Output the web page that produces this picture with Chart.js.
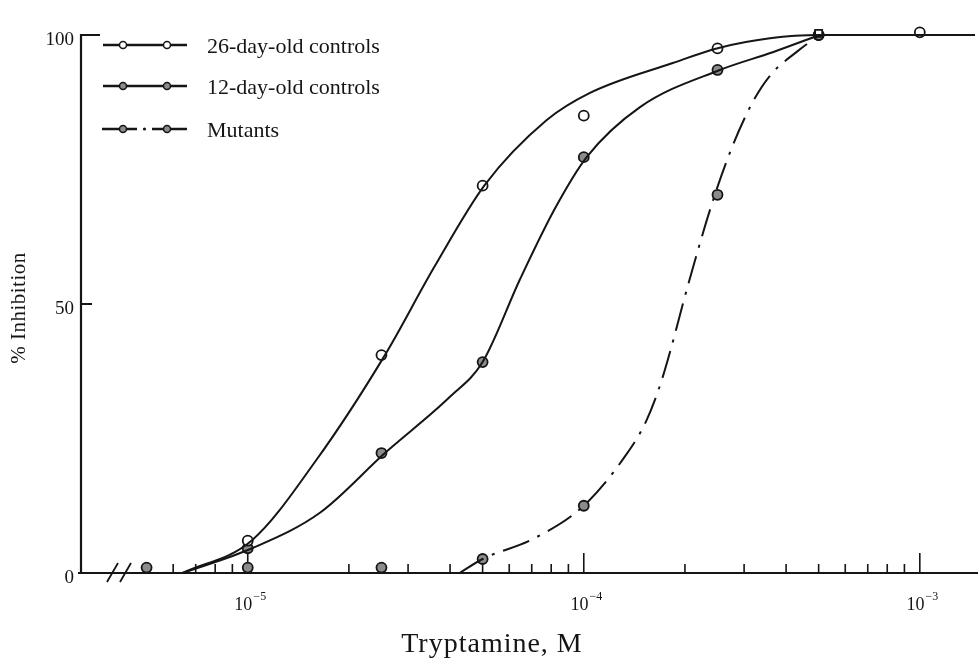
<!DOCTYPE html>
<html>
<head>
<meta charset="utf-8">
<script src="https://cdn.jsdelivr.net/npm/chart.js@4.4.0/dist/chart.umd.min.js"></script>
<style>
  body { margin: 0; background: #fff; }
  canvas { display: block; }
</style>
</head>
<body>
<canvas id="plot" width="978" height="665"></canvas>
<script>
// series names (legend order)
const seriesNames = ['26-day-old controls', '12-day-old controls', 'Mutants'];

// measured points: tryptamine concentration (M) and % inhibition
const conc26 = [1e-5, 2.5e-5, 5e-5, 1e-4, 2.5e-4, 5e-4, 1e-3];
const inhib26 = [6, 40.5, 72, 85, 97.5, 100.3, 100.5];
const conc12 = [1e-5, 2.5e-5, 5e-5, 1e-4, 2.5e-4, 5e-4];
const inhib12 = [4.6, 22.3, 39.2, 77.3, 93.5, 100];
const concMut = [5e-6, 1e-5, 2.5e-5, 5e-5, 1e-4, 2.5e-4, 5e-4];
const inhibMut = [1, 1, 1, 2.6, 12.5, 70.3, 100];

// hand drawn curves
const curve26X = [6.4e-6, 1.03e-5, 1.6e-5, 2.56e-5, 3.6e-5, 5.07e-5, 7.76e-5, 1.04e-4, 1.84e-4, 2.52e-4, 3.58e-4, 5.03e-4, 1.46e-3];
const curve26Y = [0, 6.1, 21, 40.5, 57, 72.1, 84.2, 89.2, 94.8, 97.6, 99.4, 100, 100];
const curve12X = [6.4e-6, 1.03e-5, 1.64e-5, 2.56e-5, 3.99e-5, 5.0e-5, 6.45e-5, 8.2e-5, 1.02e-4, 1.47e-4, 2.54e-4, 3.65e-4, 5.03e-4];
const curve12Y = [0, 4.6, 11.2, 22.3, 32.7, 39.2, 54.5, 67.7, 77.3, 86.6, 93.5, 96.8, 100];
const curveMutX = [4.27e-5, 5.0e-5, 7.05e-5, 1e-4, 1.334e-4, 1.53e-4, 1.707e-4, 2.07e-4, 2.4e-4, 2.74e-4, 3.18e-4, 3.6e-4, 4.33e-4, 5.03e-4];
const curveMutY = [0, 2.6, 6.3, 12.5, 21.9, 28.1, 35.9, 54.8, 68.4, 78.6, 87.5, 92.6, 97, 100];

// axis ticks
const majorTicks = [1e-5, 1e-4, 1e-3];
const majorExp = ['\u22125', '\u22124', '\u22123'];
const minorTicks = [6e-6, 7e-6, 8e-6, 9e-6,
  2e-5, 3e-5, 4e-5, 5e-5, 6e-5, 7e-5, 8e-5, 9e-5,
  2e-4, 3e-4, 4e-4, 5e-4, 6e-4, 7e-4, 8e-4, 9e-4];
const yTicks = [0, 50, 100];
const yTickLabels = ['0', '50', '100'];
const xTitle = 'Tryptamine, M';
const yTitle = '% Inhibition';

const SERIF = '"Liberation Serif", "DejaVu Serif", serif';
const INK = '#151515';
const GREY = '#8c8c8c';
const MUT_DASH = [28, 9, 3, 9];

function pts(xs, ys) {
  return xs.map((x, i) => ({ x: x, y: ys[i] }));
}

function curve(xs, ys, dash) {
  return {
    data: pts(xs, ys),
    borderColor: INK,
    borderWidth: 2,
    borderDash: dash || [],
    pointRadius: 0,
    cubicInterpolationMode: 'monotone',
    fill: false,
    clip: false
  };
}

function markers(xs, ys, fillCol, style) {
  return {
    data: pts(xs, ys),
    showLine: false,
    pointRadius: 5,
    pointStyle: style || 'circle',
    pointBackgroundColor: fillCol,
    pointBorderColor: INK,
    pointBorderWidth: 1.8,
    clip: false
  };
}

const axesPlugin = {
  id: 'oldAxes',
  beforeDatasetsDraw(chart) {
    const ctx = chart.ctx;
    const xs = chart.scales.x, ys = chart.scales.y;
    const area = chart.chartArea;
    const x0 = area.left;
    const yTop = ys.getPixelForValue(100);
    const y0 = ys.getPixelForValue(0);
    ctx.save();
    ctx.strokeStyle = INK;
    ctx.lineWidth = 2.2;
    ctx.lineCap = 'butt';
    // y axis
    ctx.beginPath();
    ctx.moveTo(x0, yTop - 1);
    ctx.lineTo(x0, y0);
    ctx.moveTo(x0 - 1, yTop);
    ctx.lineTo(x0 + 19, yTop);
    const y50 = ys.getPixelForValue(50);
    ctx.moveTo(x0, y50);
    ctx.lineTo(x0 + 11, y50);
    // x axis
    ctx.moveTo(x0 - 3, y0);
    ctx.lineTo(area.right, y0);
    ctx.stroke();
    // axis break marks
    ctx.lineWidth = 1.8;
    ctx.beginPath();
    [26, 39].forEach(dx => {
      ctx.moveTo(x0 + dx, y0 + 9);
      ctx.lineTo(x0 + dx + 11, y0 - 10);
    });
    ctx.stroke();
    // x ticks pointing into the plot
    ctx.lineWidth = 1.6;
    ctx.beginPath();
    minorTicks.forEach(v => {
      const px = xs.getPixelForValue(v);
      ctx.moveTo(px, y0);
      ctx.lineTo(px, y0 - 9);
    });
    majorTicks.forEach(v => {
      const px = xs.getPixelForValue(v);
      ctx.moveTo(px, y0);
      ctx.lineTo(px, y0 - 20);
    });
    ctx.stroke();

    // tick labels
    ctx.fillStyle = INK;
    ctx.font = '19px ' + SERIF;
    ctx.textAlign = 'right';
    ctx.textBaseline = 'top';
    yTicks.forEach((v, i) => {
      ctx.fillText(yTickLabels[i], x0 - 7, ys.getPixelForValue(v) - 4);
    });
    majorTicks.forEach((v, i) => {
      const px = xs.getPixelForValue(v);
      ctx.font = '18px ' + SERIF;
      const w = ctx.measureText('10').width;
      ctx.font = '12px ' + SERIF;
      const ws = ctx.measureText(majorExp[i]).width;
      const left = px - (w + ws) / 2 + 2;
      ctx.textAlign = 'left';
      ctx.textBaseline = 'alphabetic';
      ctx.font = '18px ' + SERIF;
      ctx.fillText('10', left, y0 + 37);
      ctx.font = '12px ' + SERIF;
      ctx.fillText(majorExp[i], left + w + 1, y0 + 27);
    });

    // axis titles
    ctx.font = '28px ' + SERIF;
    ctx.letterSpacing = '1px';
    ctx.textAlign = 'center';
    ctx.textBaseline = 'alphabetic';
    ctx.fillText(xTitle, 492, 652);
    ctx.letterSpacing = '0.5px';
    ctx.save();
    ctx.translate(25, 308);
    ctx.rotate(-Math.PI / 2);
    ctx.font = '21px ' + SERIF;
    ctx.fillText(yTitle, 0, 0);
    ctx.restore();
    ctx.letterSpacing = '0px';

    // legend
    const rows = [45, 86, 129];
    const legendFill = ['#fff', GREY, GREY];
    const legendSolid = [true, true, false];
    ctx.font = '22px ' + SERIF;
    ctx.textAlign = 'left';
    ctx.textBaseline = 'middle';
    seriesNames.forEach((name, i) => {
      const ry = rows[i];
      ctx.strokeStyle = INK;
      ctx.lineWidth = 2.4;
      ctx.beginPath();
      if (legendSolid[i]) {
        ctx.moveTo(103, ry);
        ctx.lineTo(187, ry);
      } else {
        ctx.moveTo(102, ry);
        ctx.lineTo(137, ry);
        ctx.moveTo(152, ry);
        ctx.lineTo(187, ry);
      }
      ctx.stroke();
      if (!legendSolid[i]) {
        ctx.beginPath();
        ctx.arc(144.5, ry, 1.6, 0, Math.PI * 2);
        ctx.fillStyle = INK;
        ctx.fill();
      }
      [123, 167].forEach(mx => {
        ctx.beginPath();
        ctx.arc(mx, ry, 3.5, 0, Math.PI * 2);
        ctx.fillStyle = legendFill[i];
        ctx.fill();
        ctx.lineWidth = 1.5;
        ctx.stroke();
      });
      ctx.fillStyle = INK;
      ctx.fillText(name, 207, ry + 2);
    });
    ctx.restore();
  }
};

const style26 = conc26.map(v => (v === 5e-4 ? 'rect' : 'circle'));

new Chart(document.getElementById('plot'), {
  type: 'line',
  data: {
    datasets: [
      curve(curve26X, curve26Y),
      curve(curve12X, curve12Y),
      curve(curveMutX, curveMutY, MUT_DASH),
      markers(conc26, inhib26, '#fff', style26),
      markers(conc12, inhib12, GREY),
      markers(concMut, inhibMut, GREY)
    ]
  },
  options: {
    responsive: false,
    animation: false,
    layout: { autoPadding: false, padding: { left: 81, right: 0, top: 35, bottom: 92 } },
    plugins: { legend: { display: false }, tooltip: { enabled: false } },
    scales: {
      x: { type: 'logarithmic', min: 3.19e-6, max: 1.49e-3, display: false },
      y: { type: 'linear', min: 0, max: 100, display: false }
    }
  },
  plugins: [axesPlugin]
});
</script>
</body>
</html>
